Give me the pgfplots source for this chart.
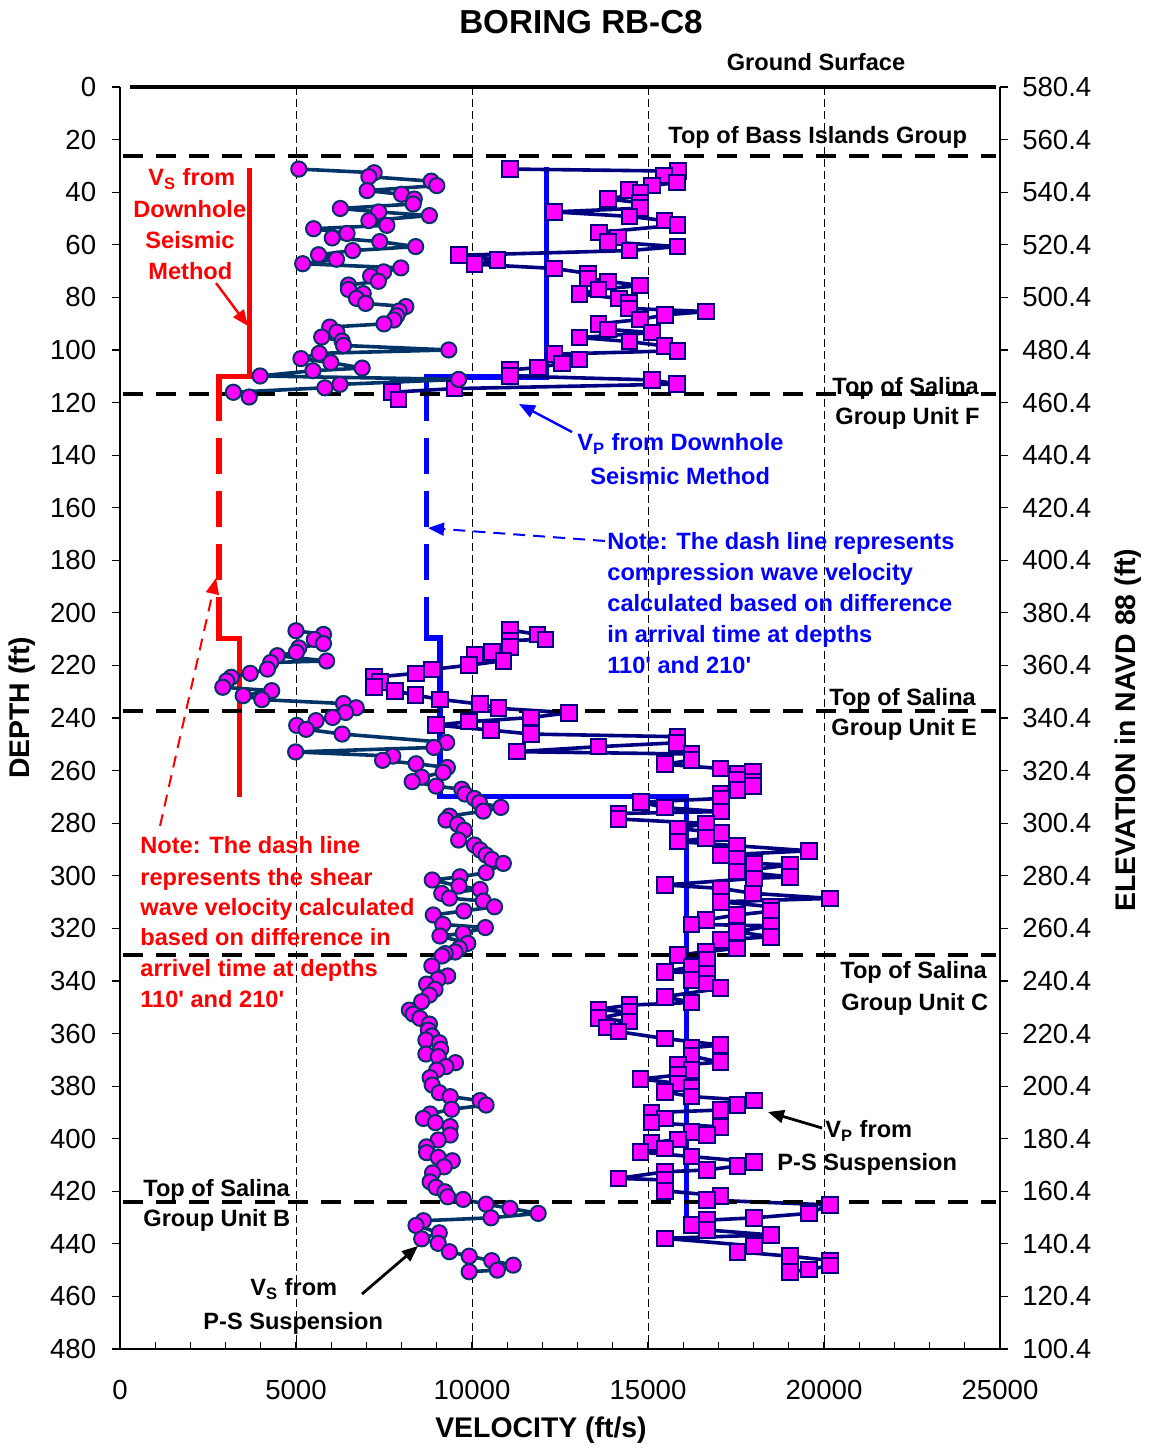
\documentclass[border=0pt]{standalone}
\usepackage{fontspec}
\setmainfont{Liberation Sans}[Ligatures=TeXOff]
\usepackage{pgfplots}
\pgfplotsset{compat=1.18}
\usetikzlibrary{arrows.meta}
\definecolor{vsline}{RGB}{0,51,102}
\definecolor{vpline}{RGB}{0,0,128}
\definecolor{mag}{RGB}{255,0,255}
\definecolor{dred}{RGB}{255,0,0}
\definecolor{dblue}{RGB}{0,0,255}
\newcommand{\annf}{\fontsize{11.8}{14}\selectfont\bfseries}
\newcommand{\tickf}{\fontsize{13.8}{16}\selectfont}
\pgfplotsset{
  base/.style={scale only axis, width=440pt, height=631pt,
    xmin=0, xmax=25000, ymin=0, ymax=480, y dir=reverse,
    scaled x ticks=false, scaled y ticks=false,
    axis line style={black, line width=0.8pt},
    tick style={black, line width=0.6pt},
    /pgf/number format/assume math mode=true,
    ticklabel style={font=\tickf}},
  vp/.style={color=vpline, line width=1.8pt, line join=round, mark=square*, mark size=3.9pt, mark options={fill=mag, draw=vpline, line width=1pt, solid, line join=miter}},
  vs/.style={color=vsline, line width=1.8pt, line join=round, mark=*, mark size=3.8pt, mark options={fill=mag, draw=vsline, line width=1pt, solid}},
  top/.style={black, line width=2pt, dash pattern=on 10pt off 6.5pt},
}
\begin{document}
\begin{tikzpicture}
% x axis, grid, inward ticks
\begin{axis}[base, axis x line*=bottom, axis y line=none,
  xtick={0,5000,10000,15000,20000,25000},
  xticklabels={0,5000,10000,15000,20000,25000},
  minor x tick num=4, tick align=inside,
  major tick length=3.5pt, minor tick length=3.5pt,
  xmajorgrids, grid style={black, line width=0.4pt, dash pattern=on 4pt off 2pt},
  xticklabel style={yshift=-12.2pt}]
\addplot[draw=none] coordinates {(0,0)};
\coordinate (LL) at (axis cs:0,480);
\end{axis}
% data axis with left major ticks outward
\begin{axis}[base, clip=false, axis x line=none, axis y line*=left,
  ytick={0,20,...,480}, tick align=outside, major tick length=4pt,
  yticklabel style={xshift=-4.4pt}]
% downhole Vs (red)
\addplot[dred, line width=2.6pt] coordinates {(3690,30.8)(3690,110)(2810,110)(2810,127)};
\addplot[dred, line width=2.6pt, dash pattern=on 18pt off 8.5pt, dash phase=18pt] coordinates {(2810,127)(2810,210)};
\addplot[dred, line width=2.6pt] coordinates {(2810,204)(2810,209.8)(3400,209.8)(3400,270)};
% downhole Vp (blue)
\addplot[dblue, line width=2.6pt] coordinates {(12120,30.5)(12120,110.3)(8710,110.3)(8710,127)};
\addplot[dblue, line width=2.6pt, dash pattern=on 18pt off 8.5pt, dash phase=18pt] coordinates {(8710,127)(8710,210)};
\addplot[dblue, line width=2.6pt] coordinates {(8710,204)(8710,209.6)(9090,209.6)(9090,270)(16100,270)(16100,430)};
% Vp P-S suspension
\addplot[vp] table[x=v,y=d] {
v d
11080 31.2
15860 32.0
15460 33.7
15830 36.3
15110 37.5
14460 39.2
14790 40.4
13870 42.6
14780 44.0
14780 46.1
12330 47.5
14470 49.2
15470 50.8
15840 52.5
13600 55.3
14140 57.2
13870 58.9
15840 60.7
14470 62.2
9630 64.0
10720 65.7
10070 67.4
12330 69.0
13300 70.9
13300 72.8
13860 73.9
14780 75.5
13590 77.0
13050 78.7
14180 80.4
14460 82.1
14460 84.2
16650 85.4
15480 86.7
14780 88.4
13590 90.1
13870 92.2
15120 93.4
13050 95.3
14470 96.8
15470 98.5
15840 100.3
12340 101.6
13050 103.6
12560 105.1
11880 106.7
11080 107.6
11080 109.9
15120 111.4
15830 113.0
9500 114.7
7720 116.1
7910 118.8
};
\addplot[vp] table[x=v,y=d] {
v d
11080 206.5
11860 208.2
12090 210.1
11080 210.5
11080 212.9
10560 214.8
10090 216.0
10890 218.2
9920 219.9
8870 221.5
8410 223.0
7220 224.5
7390 226.2
7220 228.3
7810 229.7
8400 231.3
9090 232.9
10230 234.7
10750 236.3
12760 238.0
11680 239.8
9920 241.4
8980 242.7
10540 244.6
11670 246.1
15840 247.1
15830 249.4
13590 250.9
11270 252.8
16240 253.7
16240 256.0
15480 257.6
17060 259.2
17990 260.6
17540 261.1
17520 263.6
17990 264.2
17990 265.9
17540 267.4
17060 268.7
17070 270.6
14800 272.0
15480 274.1
17070 275.6
14160 276.3
14160 278.4
16640 280.1
15860 282.0
17090 283.8
16640 285.7
15860 287.0
17520 288.6
19580 290.5
17070 292.1
17520 293.4
18010 295.3
19030 295.9
17520 298.4
19030 300.4
18010 301.0
15480 303.5
17070 304.8
17990 306.7
20170 308.6
17070 309.9
18490 311.8
18490 313.5
17520 314.9
16640 316.8
16240 318.5
18490 319.0
17520 321.3
18490 323.2
17070 324.4
17520 327.6
16640 328.9
15860 330.2
16670 332.1
16240 334.6
15480 336.5
16670 337.1
16240 339.7
16670 341.0
17060 342.8
15480 346.0
16240 348.2
14470 349.2
13590 350.8
14470 351.9
13590 354.2
14470 355.5
13830 357.7
14160 359.3
15480 361.9
17060 364.4
16240 365.4
16240 368.6
17060 370.9
15860 372.0
16240 373.9
15860 375.8
14790 377.3
15860 379.0
16240 380.6
15480 382.2
16240 384.0
18010 385.5
17540 387.2
17060 389.1
15100 390.1
15480 392.3
15100 393.9
17060 395.5
16240 397.4
16670 398.6
15860 400.3
15100 401.5
15480 403.7
14790 405.1
16240 406.8
18010 408.9
17540 410.4
16670 411.9
15480 412.6
14160 415.1
15480 415.7
15480 419.8
17060 421.8
16670 423.3
20170 425.2
19580 428.4
18010 430.1
16670 431.0
16240 432.9
16670 434.7
18490 436.6
15480 437.9
18010 440.8
17540 443.0
19030 444.7
20170 446.3
20170 448.2
19580 449.8
19030 450.6
};
% Vs P-S suspension
\addplot[vs] table[x=v,y=d] {
v d
5080 31.2
7220 32.6
7070 34.1
8840 35.8
9000 37.5
7020 39.4
8000 40.8
8360 42.6
8330 44.5
6260 46.2
7350 47.5
8790 48.9
7070 50.8
7580 52.6
5500 53.9
6450 55.7
6030 57.4
7380 58.8
8400 60.7
6610 62.2
5640 63.8
6150 65.5
5190 67.2
7980 68.8
7490 70.3
7120 71.9
7340 73.9
6490 75.3
6490 77.0
6910 78.6
6720 80.4
6980 82.3
8120 83.5
7930 85.2
7860 87.0
7780 88.6
7500 90.1
5960 91.3
6160 93.2
5730 95.1
6310 96.6
6350 98.3
9340 100.0
5660 101.3
5140 103.3
5990 104.8
6880 106.9
5480 107.9
3980 109.9
9620 111.2
6250 113.1
5820 114.4
3220 116.1
3670 117.9
};
\addplot[vs] table[x=v,y=d] {
v d
5000 206.8
5780 208.2
5520 210.1
5780 211.7
5080 213.3
5010 215.0
4470 216.3
5870 218.3
4280 218.9
4190 221.4
3700 223.0
3160 224.5
3030 225.9
2920 228.3
4310 229.6
3500 231.5
4030 233.0
6350 234.5
6710 236.1
6410 237.9
6040 239.8
5570 241.0
5020 242.8
5290 244.3
6310 246.1
9280 249.3
8920 251.2
4990 252.9
7750 254.5
7460 256.1
8410 257.4
9300 258.8
9180 260.7
8570 262.5
8300 264.2
8980 265.9
9710 267.1
9800 268.9
10070 270.6
10210 272.2
10820 274.0
10320 275.4
9360 277.3
9260 278.8
9590 280.4
9780 282.7
9620 286.4
10070 288.3
10230 290.2
10400 292.1
10560 293.8
10890 295.3
10400 298.8
9660 300.4
8870 301.6
9630 303.9
10230 305.2
9140 306.7
9360 308.5
10320 309.6
10640 311.8
9770 313.4
8900 314.9
9170 318.5
10380 319.7
9750 321.9
9090 322.9
9880 325.7
9640 327.6
9520 329.0
9240 329.6
9150 330.5
8860 334.3
9310 338.1
9030 339.4
8710 341.2
8950 343.2
8790 345.4
8570 347.9
8220 351.1
8330 352.6
8520 354.2
8790 356.4
8760 358.7
8860 360.9
8690 362.5
9070 363.5
9110 366.0
8690 367.8
9040 368.8
9530 371.1
9260 372.6
9000 373.9
8810 376.8
8870 379.6
9070 382.5
9380 384.0
10230 385.5
10400 387.2
9420 388.8
8810 390.6
8620 392.3
8960 393.9
9380 395.4
9380 398.6
9040 400.5
8710 403.1
8710 405.3
9040 407.1
9440 408.4
9210 410.7
8880 413.0
8810 416.4
8980 418.5
9230 420.2
9310 422.1
9750 423.1
10400 424.9
11080 426.5
11880 428.4
10540 430.1
8620 431.2
8410 433.0
9070 435.8
8570 438.1
9040 439.8
9360 443.0
9920 444.7
10560 446.4
11170 448.1
10720 450.0
9920 450.6
};
% ground surface and formation tops
\addplot[black, line width=2pt] coordinates {(280,0)(24900,0)};
\addplot[top] coordinates {(90,26.2)(24900,26.2)};
\addplot[top] coordinates {(90,116.8)(24900,116.8)};
\addplot[top] coordinates {(90,237.4)(24900,237.4)};
\addplot[top] coordinates {(90,330.2)(24900,330.2)};
\addplot[top] coordinates {(90,424.1)(24900,424.1)};
\end{axis}
% minor ticks inward on both sides
\begin{axis}[base, axis x line=none, axis y line=box, ytick=\empty,
  tick align=inside, minor tick length=3.5pt,
  minor ytick={4,8,12,16,24,28,32,36,44,48,52,56,64,68,72,76,84,88,92,96,104,108,112,116,124,128,132,136,144,148,152,156,164,168,172,176,184,188,192,196,204,208,212,216,224,228,232,236,244,248,252,256,264,268,272,276,284,288,292,296,304,308,312,316,324,328,332,336,344,348,352,356,364,368,372,376,384,388,392,396,404,408,412,416,424,428,432,436,444,448,452,456,464,468,472,476}]
\addplot[draw=none] coordinates {(0,0)};
\end{axis}
% right elevation axis
\begin{axis}[base, axis x line=none, axis y line*=right,
  ytick={0,20,...,480}, tick align=outside, major tick length=4pt,
  yticklabels={580.4,560.4,540.4,520.4,500.4,480.4,460.4,440.4,420.4,400.4,380.4,360.4,340.4,320.4,300.4,280.4,260.4,240.4,220.4,200.4,180.4,160.4,140.4,120.4,100.4},
  yticklabel style={xshift=3.6pt}]
\addplot[draw=none] coordinates {(0,0)};
\end{axis}
% annotations in pixel coordinates of the reference
\begin{scope}[shift={(LL)}]
\begin{scope}[x=0.5pt, y=-0.5pt, shift={(-60pt,674.5pt)}]
\node[anchor=base, inner sep=0, font=\fontsize{16.6}{20}\selectfont\bfseries] at (581,34) {BORING RB-C8};
\node[anchor=center, inner sep=0, font=\fontsize{14.2}{17}\selectfont\bfseries] at (541,1430) {VELOCITY (ft/s)};
\node[anchor=center, inner sep=0, rotate=90, font=\fontsize{14.2}{17}\selectfont\bfseries] at (22,708) {DEPTH (ft)};
\node[anchor=center, inner sep=0, rotate=90, font=\fontsize{14.2}{17}\selectfont\bfseries] at (1128,730) {ELEVATION in NAVD 88 (ft)};
\begin{scope}[every node/.style={inner sep=0, font=\annf}]
\node[anchor=base] at (816,71) {Ground Surface};
\node[anchor=base west] at (668,143.5) {Top of Bass Islands Group};
\node[anchor=base west] at (832,394.5) {Top of Salina};
\node[anchor=base west] at (835,424.5) {Group Unit F};
\node[anchor=base west] at (829,705.5) {Top of Salina};
\node[anchor=base west] at (831,735.5) {Group Unit E};
\node[anchor=base west] at (840,978.5) {Top of Salina};
\node[anchor=base west] at (841,1010.5) {Group Unit C};
\node[anchor=base west] at (143,1196.5) {Top of Salina};
\node[anchor=base west] at (143,1226.5) {Group Unit B};
\node[anchor=base west] at (825,1137.5) {V\textsubscript{P} from};
\node[anchor=base west] at (777,1170.5) {P-S Suspension};
\node[anchor=base west] at (250,1295.5) {V\textsubscript{S} from};
\node[anchor=base west] at (203,1329.5) {P-S Suspension};
\node[anchor=base west, text=dblue] at (577,450.5) {V\textsubscript{P} from Downhole};
\node[anchor=base west, text=dblue] at (590,484.5) {Seismic Method};
\node[anchor=base west, text=dblue] at (607,549.5) {Note: The dash line represents};
\node[anchor=base west, text=dblue] at (607,580.5) {compression wave velocity};
\node[anchor=base west, text=dblue] at (607,611.5) {calculated based on difference};
\node[anchor=base west, text=dblue] at (607,642.5) {in arrival time at depths};
\node[anchor=base west, text=dblue] at (607,673.5) {110' and 210'};
\node[anchor=base west, text=dred] at (148,185.5) {V\textsubscript{S} from};
\node[anchor=base west, text=dred] at (133,217.5) {Downhole};
\node[anchor=base west, text=dred] at (145,248.5) {Seismic};
\node[anchor=base west, text=dred] at (148,279.5) {Method};
\node[anchor=base west, text=dred] at (140,853.5) {Note: The dash line};
\node[anchor=base west, text=dred] at (140,885.5) {represents the shear};
\node[anchor=base west, text=dred] at (140,915.5) {wave velocity calculated};
\node[anchor=base west, text=dred] at (140,945.5) {based on difference in};
\node[anchor=base west, text=dred] at (140,976.5) {arrivel time at depths};
\node[anchor=base west, text=dred] at (140,1007.5) {110' and 210'};
\end{scope}
\draw[dred, line width=1.2pt, -{Triangle[length=8pt,width=6.5pt]}] (216,283) -- (248,326);
\draw[dblue, line width=1.2pt, -{Triangle[length=8pt,width=6.5pt]}] (572,432) -- (519,404);
\draw[dblue, line width=1pt, dash pattern=on 6pt off 4pt, -{Triangle[length=8pt,width=6.5pt]}] (605,541) -- (428,528);
\draw[dred, line width=1pt, dash pattern=on 6pt off 4pt, -{Triangle[length=8pt,width=6.5pt]}] (160,826) -- (216,578);
\draw[black, line width=1.4pt, -{Triangle[length=8pt,width=6.5pt]}] (822,1128) -- (768,1112);
\draw[black, line width=1.4pt, -{Triangle[length=8pt,width=6.5pt]}] (362,1294) -- (418,1246);
\end{scope}
\end{scope}
\pgfresetboundingbox
\path[use as bounding box] ([shift={(-60pt,-49.5pt)}]LL) rectangle ([shift={(514pt,674.5pt)}]LL);
\end{tikzpicture}
\end{document}
